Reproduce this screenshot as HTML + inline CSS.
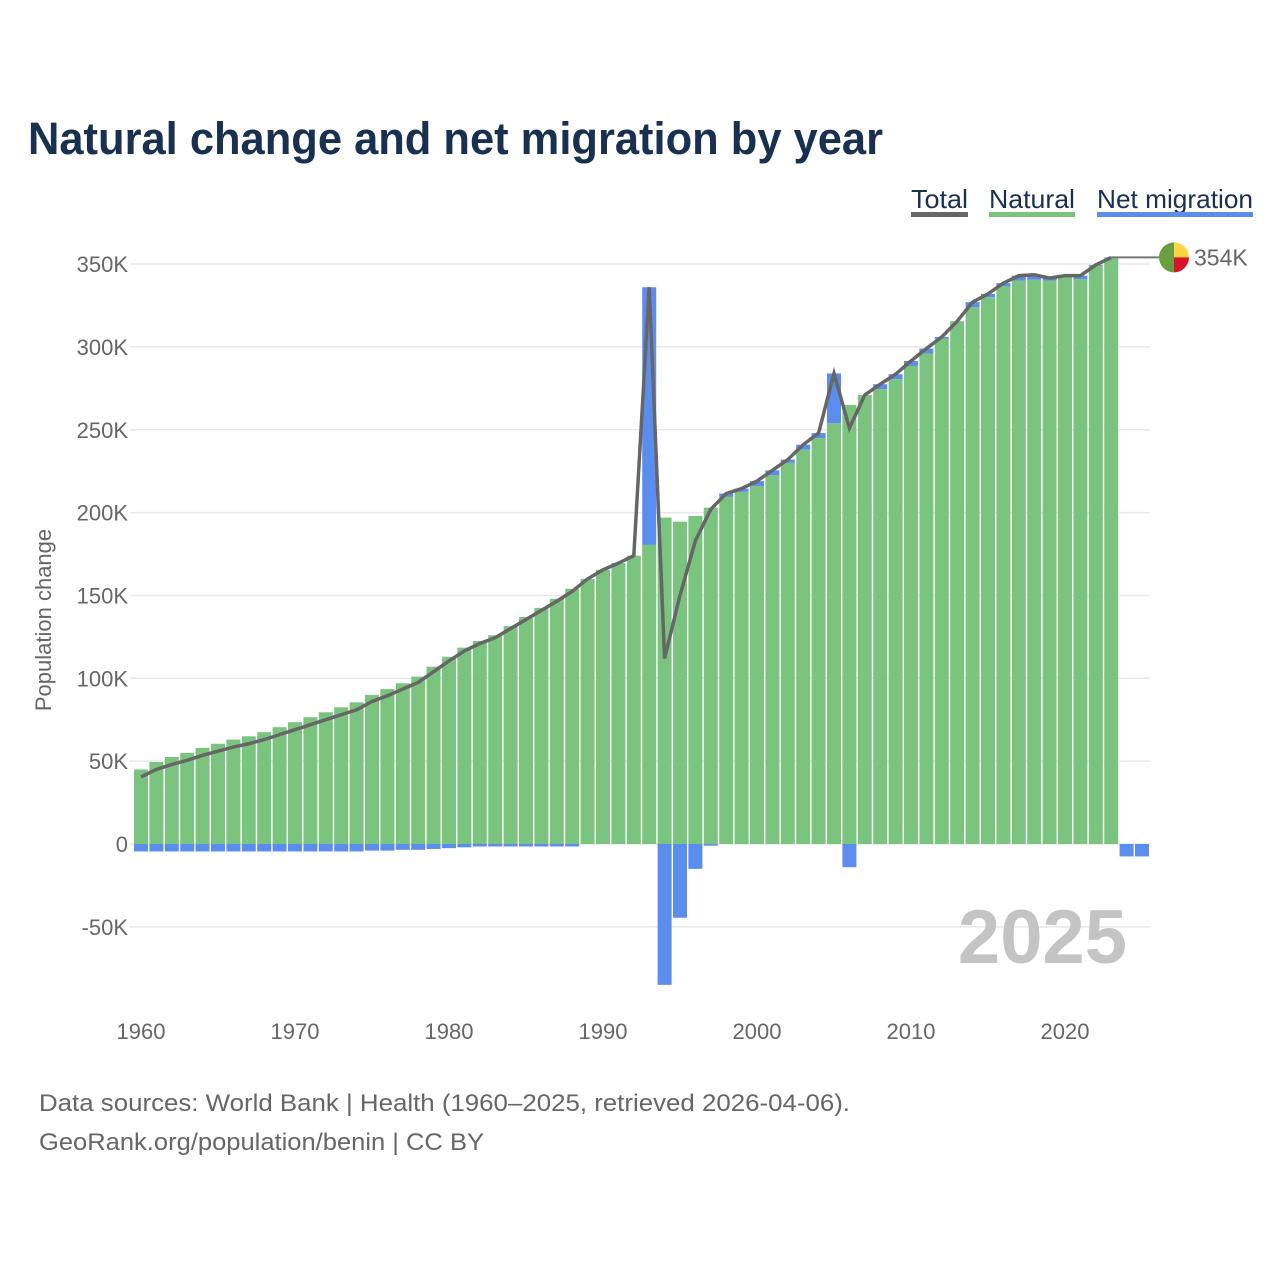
<!DOCTYPE html>
<html><head><meta charset="utf-8"><style>
html,body{margin:0;padding:0;background:#fff;}
svg{display:block;font-family:"Liberation Sans",sans-serif;}
</style></head><body>
<svg id="chart" width="1280" height="1280" viewBox="0 0 1280 1280" xmlns="http://www.w3.org/2000/svg">
<rect width="1280" height="1280" fill="#fff"/>
<text x="28" y="154" font-size="45" font-weight="bold" fill="#1a3050" textLength="855" lengthAdjust="spacingAndGlyphs">Natural change and net migration by year</text>
<g>
<g><text x="911" y="208" font-size="26" fill="#1a3050" textLength="57" lengthAdjust="spacingAndGlyphs">Total</text><rect x="911" y="212" width="57" height="5" fill="#666"/></g>
<g><text x="989" y="208" font-size="26" fill="#1a3050" textLength="86" lengthAdjust="spacingAndGlyphs">Natural</text><rect x="989" y="212" width="86" height="5" fill="#7bc47f"/></g>
<g><text x="1097" y="208" font-size="26" fill="#1a3050" textLength="156" lengthAdjust="spacingAndGlyphs">Net migration</text><rect x="1097" y="212" width="156" height="5" fill="#5b8def"/></g>
</g>
<text transform="translate(51,620) rotate(-90)" text-anchor="middle" font-size="22" fill="#666">Population change</text>
<g id="grid"></g>
<text x="1127" y="963" text-anchor="end" font-size="76" font-weight="bold" fill="#c4c4c4">2025</text>
<g id="bars"></g>
<g id="line"></g>
<g id="xt"></g>
<g font-size="24" fill="#666">
<text x="39" y="1111" textLength="811" lengthAdjust="spacingAndGlyphs">Data sources: World Bank | Health (1960–2025, retrieved 2026-04-06).</text>
<text x="39" y="1150" textLength="445" lengthAdjust="spacingAndGlyphs">GeoRank.org/population/benin | CC BY</text>
</g>
</svg>
<script>
const years = [];
for (let y = 1960; y <= 2025; y++) years.push(y);
const natural = [45,49.5,52.5,55,58,60.5,63,65,67.5,70.5,73.5,76.5,79.5,82.5,85.5,90,93.5,97,101,107,113,118.5,122.5,126,131.5,137,142.5,148,154,160,165.5,169.5,174,180.5,197,194.5,198,203,209.5,212.5,216,222.5,230,238,245,254,265,271,274.5,280.5,288.5,296,305,315.5,324,330,336.5,340,340.5,340,342,341,349,353.7,0,0];
const migration = [-4.5,-4.5,-4.5,-4.5,-4.5,-4.5,-4.5,-4.5,-4.5,-4.5,-4.5,-4.5,-4.5,-4.5,-4.5,-4,-4,-3.5,-3.5,-3,-2.5,-2,-1.5,-1.5,-1.5,-1.5,-1.5,-1.5,-1.5,0,0,0,0,155.5,-85,-44.5,-15,-1,2,2,3,3,2,3,3,30,-14,0,3,3,3,3,1,0,3,2,2,3,3,1.5,1,2,0.5,0.3,-7.5,-7.5];
const totalLastYear = 2023;
const yTicks = [-50,0,50,100,150,200,250,300,350];
const yTickLabels = ["-50K","0","50K","100K","150K","200K","250K","300K","350K"];
const xTicks = [1960,1970,1980,1990,2000,2010,2020];

const NS = "http://www.w3.org/2000/svg";
const yS = v => 844 - v * 1.657;
const xS = yr => 141 + (yr - 1960) * 15.4;
const bw = 14;
function mk(tag, attrs, parent) {
  const e = document.createElementNS(NS, tag);
  for (const k in attrs) e.setAttribute(k, attrs[k]);
  parent.appendChild(e);
  return e;
}
const grid = document.getElementById('grid');
yTicks.forEach((t, i) => {
  const gl = mk('line', {x1:130, x2:1150, y1:yS(t), y2:yS(t), stroke:'#e8e8e8', 'stroke-width':1.5}, grid);
  
  
  const tx = mk('text', {x:128, y:yS(t)+8, 'text-anchor':'end', 'font-size':22, fill:'#666'}, grid);
  tx.textContent = yTickLabels[i];
  
  
});
const xt = document.getElementById('xt');
xTicks.forEach(t => {
  const tx = mk('text', {x:xS(t), y:1039, 'text-anchor':'middle', 'font-size':22, fill:'#666'}, xt);
  tx.textContent = t;
  
  
});
const bars = document.getElementById('bars');
years.forEach((yr, i) => {
  const x = xS(yr) - bw/2;
  const n = natural[i], m = migration[i];
  if (n > 0) {
    const r = mk('rect', {x:x, y:yS(n), width:bw, height:yS(0)-yS(n), fill:'#7bc47f'}, bars);
    
    
  }
  if (m !== 0) {
    const top = m > 0 ? yS(n + m) : yS(0);
    const h = Math.abs(m) * 1.657;
    const r = mk('rect', {x:x, y:top, width:bw, height:h, fill:'#5b8def'}, bars);
    
    
  }
});
const lineG = document.getElementById('line');
const pts = [];
years.forEach((yr, i) => { if (yr <= totalLastYear) pts.push(xS(yr) + ',' + yS(natural[i] + migration[i])); });
const pl = mk('polyline', {points:pts.join(' '), fill:'none', stroke:'#666', 'stroke-width':3.5, 'stroke-linejoin':'miter'}, lineG);


const li = years.indexOf(totalLastYear);
const lastV = natural[li] + migration[li];
const ly = yS(lastV);
const ld = mk('line', {x1:xS(totalLastYear), x2:1160, y1:ly, y2:ly, stroke:'#777', 'stroke-width':2}, lineG);


const flag = mk('g', {}, lineG);


const cx = 1174, cy = ly;
mk('path', {d:`M${cx},${cy-15} A15,15 0 0,0 ${cx},${cy+15} Z`, fill:'#6a9f40'}, flag);
mk('path', {d:`M${cx},${cy-15} A15,15 0 0,1 ${cx+15},${cy} L${cx},${cy} Z`, fill:'#fcd440'}, flag);
mk('path', {d:`M${cx+15},${cy} A15,15 0 0,1 ${cx},${cy+15} L${cx},${cy} Z`, fill:'#d9132a'}, flag);
const el = mk('text', {x:1194, y:ly+8, 'font-size':23, fill:'#666'}, lineG);
el.textContent = Math.round(lastV) + 'K';


</script>
</body></html>
